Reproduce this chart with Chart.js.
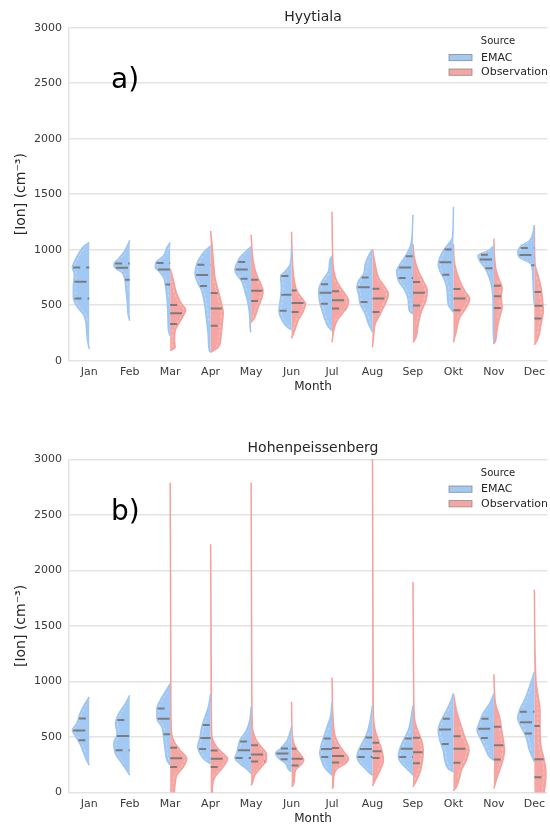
<!DOCTYPE html>
<html>
<head>
<meta charset="utf-8">
<script src="https://cdn.jsdelivr.net/npm/chart.js@4/dist/chart.umd.min.js"></script>
<style>
  html, body { margin: 0; padding: 0; background: #fff; }
  #chartA { position: absolute; left: 0; top: 0; }
  #chartB { position: absolute; left: 0; top: 413px; }
</style>
</head>
<body>
<canvas id="chartA" width="550" height="413"></canvas>
<canvas id="chartB" width="550" height="414"></canvas>
<script>
// split violins: EMAC (left half) vs Observation (right half), per month
// profiles are [value, kde width] pairs from top to bottom, width in arbitrary units

const MONTHS = ['Jan', 'Feb', 'Mar', 'Apr', 'May', 'Jun', 'Jul', 'Aug', 'Sep', 'Okt', 'Nov', 'Dec'];
const Y_TICKS = [0, 500, 1000, 1500, 2000, 2500, 3000];

// ---- Hyytiala ----
const HYY_EMAC = [
    [[1065,0],[1035,15],[960,33],[870,48],[840,51],[780,45],[660,48],[570,48],[480,35],[420,18],[360,11],[270,8],[180,5],[105,0]],
    [[1086,0],[1050,5],[975,18],[915,35],[870,48],[834,43],[795,23],[735,15],[630,11],[510,7],[420,5],[360,0]],
    [[1065,0],[1020,10],[945,20],[885,43],[840,45],[810,35],[750,20],[690,15],[570,10],[420,7],[270,5],[225,0]],
    [[1035,0],[990,17],[930,32],[870,42],[780,47],[690,37],[630,27],[570,22],[480,17],[360,12],[210,7],[90,4],[75,0]],
    [[1027,0],[990,14],[930,34],[870,44],[825,49],[780,44],[720,29],[630,19],[510,9],[390,4],[270,2],[255,0]],
    [[1025,0],[870,4],[810,18],[760,33],[660,31],[570,33],[450,38],[360,28],[300,12],[280,0]],
    [[945,0],[900,7],[810,10],[750,23],[690,35],[630,40],[540,38],[450,30],[360,20],[300,10],[270,0]],
    [[1005,0],[945,12],[870,22],[780,27],[720,42],[660,47],[600,42],[510,37],[420,22],[330,12],[270,2],[255,0]],
    [[1315,0],[1050,6],[960,19],[870,39],[810,49],[720,44],[630,24],[540,14],[450,11],[420,0]],
    [[1387,0],[1110,3],[1050,16],[990,31],[930,41],[870,46],[810,41],[720,26],[630,19],[510,16],[435,0]],
    [[1035,0],[990,18],[945,48],[900,43],[840,28],[780,18],[690,8],[570,3],[300,2],[150,0]],
    [[1222,0],[1140,5],[1080,15],[1035,40],[975,50],[930,45],[870,10],[780,5],[570,2],[510,0]]
];
const HYY_EMAC_Q = [
    [561,711,840],[729,837,876],[687,822,880],[672,771,865],[738,822,889],[450,594,762],
    [513,612,689],[528,662,750],[746,840,941],[775,887,1002],[834,912,955],[860,953,1016]
];
const HYY_OBS = [
    null,
    null,
    [[830,0],[800,3],[720,10],[600,20],[510,35],[460,47],[405,40],[330,25],[270,15],[180,13],[120,15],[90,0]],
    [[1170,0],[1020,5],[870,9],[750,13],[630,23],[510,33],[435,38],[330,35],[210,31],[120,23],[75,0]],
    [[1134,0],[990,3],[870,8],[780,16],[690,29],[630,36],[570,33],[480,21],[390,11],[345,0]],
    [[1161,0],[876,3],[726,8],[636,15],[546,35],[516,42],[441,35],[366,20],[276,10],[201,0]],
    [[1342,0],[870,3],[750,10],[660,25],[600,40],[540,50],[480,45],[420,30],[360,15],[270,5],[165,0]],
    [[1005,0],[870,8],[750,18],[660,38],[600,48],[510,38],[420,23],[330,8],[210,3],[120,0]],
    [[1050,0],[930,4],[810,16],[720,31],[630,43],[540,39],[450,26],[330,16],[210,9],[165,0]],
    [[1050,0],[870,4],[720,19],[630,34],[555,49],[480,39],[390,19],[270,9],[165,0]],
    [[1100,0],[930,2],[810,7],[720,17],[660,25],[570,22],[480,25],[390,17],[270,9],[180,5],[150,0]],
    [[1216,0],[870,2],[780,10],[660,20],[540,25],[450,27],[330,20],[240,15],[165,5],[144,0]]
];
const HYY_OBS_Q = [
    null, null, [330,428,502],[315,470,610],[538,630,730],[438,520,632],
    [470,545,625],[438,560,648],[498,612,708],[455,560,645],[475,580,676],[380,495,620]
];

// ---- Hohenpeissenberg ----
const HOH_EMAC = [
    [[861,0],[801,13],[711,28],[621,38],[561,51],[516,43],[441,28],[366,18],[291,8],[246,0]],
    [[876,0],[801,13],[711,33],[621,43],[531,38],[441,48],[351,43],[261,23],[171,3],[156,0]],
    [[981,0],[906,15],[831,30],[756,40],[666,40],[591,25],[501,20],[381,15],[291,10],[246,0]],
    [[891,0],[771,7],[681,17],[591,27],[501,32],[411,39],[351,32],[291,17],[261,0]],
    [[771,0],[651,4],[561,14],[471,34],[411,39],[351,44],[312,49],[261,34],[201,9],[171,0]],
    [[593,0],[473,13],[398,33],[353,48],[308,38],[263,18],[203,8],[188,0]],
    [[816,0],[681,5],[591,15],[501,25],[426,33],[351,37],[276,30],[216,20],[171,5],[156,0]],
    [[786,0],[651,7],[531,17],[441,32],[381,42],[321,47],[261,37],[201,17],[171,7],[156,0]],
    [[786,0],[651,7],[561,14],[471,29],[381,41],[321,44],[261,34],[216,19],[171,4],[156,0]],
    [[891,0],[801,11],[711,26],[621,41],[561,46],[471,41],[381,31],[291,26],[216,16],[186,0]],
    [[891,0],[801,13],[711,33],[621,45],[561,51],[501,43],[411,28],[321,13],[291,0]],
    [[1086,0],[951,15],[831,30],[741,45],[666,50],[591,40],[501,25],[381,15],[291,2],[276,0]]
];
const HOH_EMAC_Q = [
    [472,558,666],[382,510,654],[525,665,756],[392,492,608],[312,382,460],[301,352,396],
    [320,392,486],[321,393,496],[320,395,488],[438,567,665],[492,574,665],[532,634,727]
];
const HOH_OBS = [
    null,
    null,
    [[2790,0],[1000,2],[591,3],[471,10],[381,30],[306,50],[231,40],[156,20],[81,15],[21,13],[-60,13]],
    [[2235,0],[1000,2],[531,3],[411,18],[351,38],[306,51],[231,38],[141,13],[51,5],[-60,5]],
    [[2790,0],[1000,2],[591,4],[471,16],[411,31],[351,46],[291,46],[231,31],[156,11],[81,3],[66,0]],
    [[818,0],[533,2],[443,7],[383,17],[323,32],[293,37],[248,27],[203,12],[143,9],[68,5],[53,0]],
    [[1035,0],[681,3],[501,10],[411,25],[351,40],[306,50],[261,40],[216,15],[141,5],[51,3],[36,0]],
    [[3010,0],[1000,2],[681,3],[561,8],[471,18],[381,28],[291,33],[201,23],[111,8],[57,0]],
    [[1896,0],[1000,2],[681,4],[561,14],[471,26],[381,31],[291,29],[201,23],[111,11],[51,0]],
    [[891,0],[741,9],[591,24],[501,34],[381,47],[291,39],[201,24],[141,19],[51,9],[15,0]],
    [[1065,0],[801,5],[681,17],[591,22],[501,27],[381,32],[291,27],[201,17],[111,7],[36,0]],
    [[1827,0],[1000,5],[891,10],[741,17],[591,17],[411,20],[291,30],[171,35],[81,33],[0,30],[-60,30]]
];
const HOH_OBS_Q = [
    null, null, [230,310,403],[230,305,379],[280,343,426],[245,305,394],
    [270,330,401],[312,373,448],[265,364,493],[268,394,508],[298,427,592],[139,300,600]
];

const BLUE = { fill: '#a1c9f4', edge: '#9fc6f0' };
const RED = { fill: '#f6a6a2', edge: '#f4a09c' };
const WIDTH_SCALE = 1 / 122;   // kde units -> category units
const FONT = "'DejaVu Sans', sans-serif";

function widthAt(prof, v) {
    for (let k = 0; k < prof.length - 1; k++) {
        const [v1, w1] = prof[k];
        const [v2, w2] = prof[k + 1];
        if (v <= v1 && v >= v2) {
            const t = (v1 - v) / ((v1 - v2) || 1);
            return w1 + (w2 - w1) * t;
        }
    }
    return 0;
}

function buildDatasets(emac, emacQ, obs, obsQ) {
    const out = [];
    MONTHS.forEach((m, i) => {
        const halves = [
            [emac[i], emacQ[i], -1, BLUE],
            [obs[i], obsQ[i], 1, RED]
        ];
        halves.forEach(([prof, q, side, col]) => {
            if (!prof) return;
            const pts = prof.slice().reverse(); // bottom -> top
            out.push({
                data: pts.map(([v, w]) => ({ x: i + side * w * WIDTH_SCALE, y: v })),
                fill: { value: i },
                backgroundColor: col.fill,
                borderColor: col.edge,
                borderWidth: 1.5,
                cubicInterpolationMode: 'monotone',
                pointRadius: 0,
                order: 3
            });
            // faint white dashed inner contour
            out.push({
                data: pts.map(([v, w]) => ({ x: w >= 10 ? i + side * (w - 6) * WIDTH_SCALE : null, y: v })),
                fill: false,
                borderColor: 'rgba(255,255,255,0.55)',
                borderWidth: 0.6,
                borderDash: [3, 2],
                cubicInterpolationMode: 'monotone',
                spanGaps: false,
                pointRadius: 0,
                order: 2
            });
            // quartile lines
            q.forEach((val, k) => {
                const w = widthAt(prof, val) * WIDTH_SCALE * 0.95;
                const ends = side < 0 ? [i - w, i] : [i, i + w];
                out.push({
                    data: [{ x: ends[0], y: val }, { x: ends[1], y: val }],
                    fill: false,
                    borderColor: '#7b7b7b',
                    borderWidth: 2,
                    borderDash: k === 1 ? [12, 4] : [7, 6],
                    tension: 0,
                    pointRadius: 0,
                    order: 1
                });
            });
        });
    });
    return out;
}

const decorPlugin = {
    id: 'decor',
    afterDraw(chart, args, opts) {
        const { ctx, chartArea } = chart;
        const ct = chartArea.top, cb = chartArea.bottom, cl = chartArea.left;
        ctx.save();
        ctx.fillStyle = '#262626';
        ctx.textAlign = 'center';
        ctx.textBaseline = 'middle';
        ctx.font = '14px ' + FONT;
        ctx.fillText(opts.title, cl + 244, ct - 10.5);
        ctx.font = '12px ' + FONT;
        ctx.fillText('Month', cl + 244, cb + 26);
        // y label
        ctx.save();
        ctx.translate(21.5, (ct + cb) / 2);
        ctx.rotate(-Math.PI / 2);
        ctx.font = '14px ' + FONT;
        ctx.fillText('[Ion] (cm\u207B\u00B3)', 0, 0);
        ctx.restore();
        // panel letter
        ctx.fillStyle = '#000';
        ctx.textAlign = 'left';
        ctx.textBaseline = 'alphabetic';
        ctx.font = '28px ' + FONT;
        ctx.fillText(opts.letter, 111, ct + 60.5);
        // legend
        ctx.fillStyle = '#262626';
        ctx.textAlign = 'center';
        ctx.textBaseline = 'middle';
        ctx.font = '10px ' + FONT;
        ctx.fillText('Source', 498, ct + 14);
        ctx.textAlign = 'left';
        ctx.font = '11px ' + FONT;
        [['EMAC', BLUE, 26.7], ['Observation', RED, 41.3]].forEach(([lab, col, dy]) => {
            ctx.fillStyle = col.fill;
            ctx.fillRect(449, ct + dy, 23, 6.3);
            ctx.strokeStyle = '#8c8c8c';
            ctx.lineWidth = 0.8;
            ctx.strokeRect(449, ct + dy, 23, 6.3);
            ctx.fillStyle = '#262626';
            ctx.fillText(lab, 481, ct + dy + 3.4);
        });
        ctx.restore();
    }
};

function makeChart(id, cfg) {
    return new Chart(document.getElementById(id), {
        type: 'line',
        data: { datasets: buildDatasets(cfg.emac, cfg.emacQ, cfg.obs, cfg.obsQ) },
        plugins: [decorPlugin],
        options: {
            indexAxis: 'y',
            responsive: false,
            animation: false,
            events: [],
            layout: { padding: { top: cfg.top, left: 0, right: 0, bottom: 0 } },
            plugins: {
                legend: { display: false },
                tooltip: { enabled: false },
                decor: { title: cfg.title, letter: cfg.letter }
            },
            scales: {
                x: {
                    type: 'linear',
                    position: 'bottom',
                    min: -0.5,
                    max: 11.32,
                    afterBuildTicks: (scale) => { scale.ticks = MONTHS.map((m, i) => ({ value: i })); },
                    afterFit: (scale) => { scale.height = cfg.xHeight; },
                    grid: { display: false, drawTicks: false },
                    border: { display: false },
                    ticks: {
                        autoSkip: false,
                        maxRotation: 0,
                        padding: 5,
                        color: '#3a3a3a',
                        font: { family: FONT, size: 11 },
                        callback: (v) => MONTHS[v]
                    }
                },
                y: {
                    type: 'linear',
                    position: 'left',
                    min: 0,
                    max: 3000,
                    afterBuildTicks: (scale) => { scale.ticks = Y_TICKS.map(v => ({ value: v })); },
                    afterFit: (scale) => { scale.width = 69; },
                    grid: { color: '#e3e3e3', lineWidth: 1.5, drawTicks: false },
                    border: { display: true, color: '#e3e3e3', width: 1.5 },
                    ticks: {
                        padding: 7,
                        color: '#3a3a3a',
                        font: { family: FONT, size: 11 },
                        callback: (v) => String(v)
                    }
                }
            }
        }
    });
}

makeChart('chartA', {
    emac: HYY_EMAC, emacQ: HYY_EMAC_Q, obs: HYY_OBS, obsQ: HYY_OBS_Q,
    title: 'Hyytiala', letter: 'a)', top: 27.7, xHeight: 52.3
});
makeChart('chartB', {
    emac: HOH_EMAC, emacQ: HOH_EMAC_Q, obs: HOH_OBS, obsQ: HOH_OBS_Q,
    title: 'Hohenpeissenberg', letter: 'b)', top: 46.3, xHeight: 34.4
});
</script>
</body>
</html>
